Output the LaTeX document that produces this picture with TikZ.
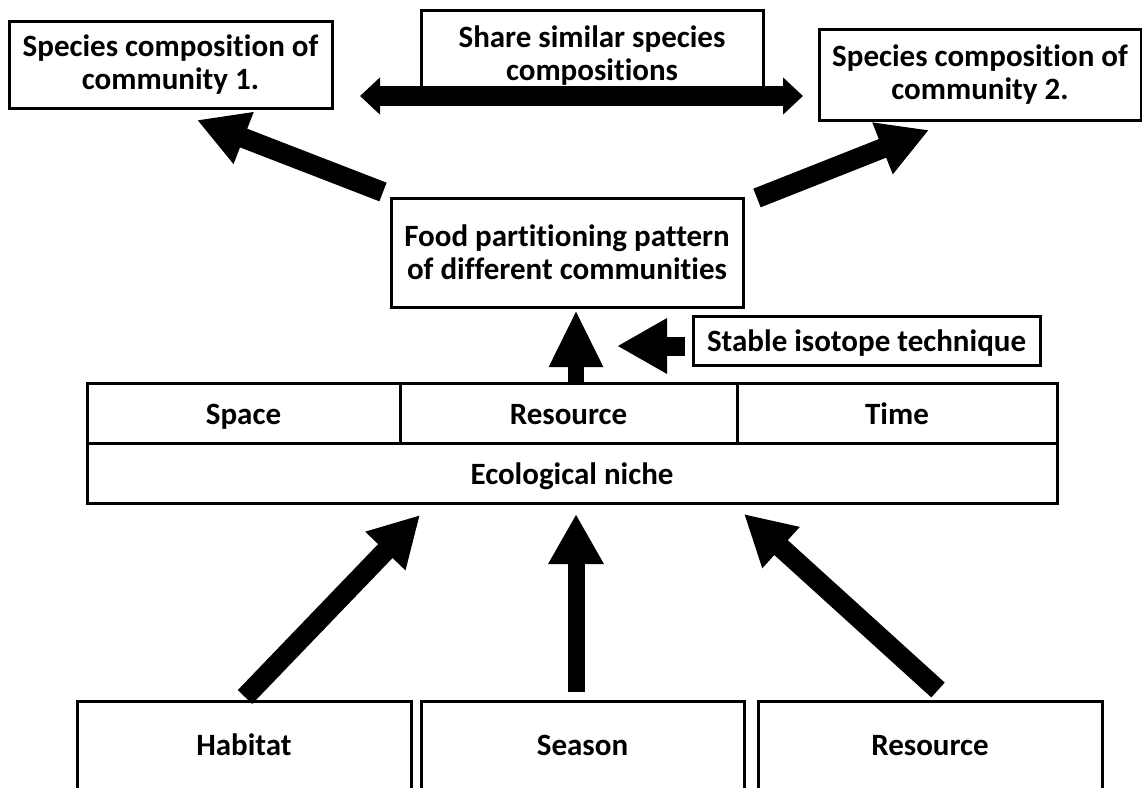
\documentclass[tikz,border=0pt]{standalone}
\usepackage{fontspec}
\setmainfont{Carlito}[RawFeature={-liga;-clig;-dlig;-calt}]
\usetikzlibrary{arrows.meta}
\begin{document}
\begin{tikzpicture}[x=1pt,y=-1pt,
  box/.style={draw, line width=3pt, inner sep=0pt, align=center,
    font=\bfseries\fontsize{31}{33}\selectfont},
  one/.style={text height=24pt, text depth=2pt},
  low/.style={text height=24pt, text depth=7pt},
  fat/.style={line width=19pt, -{Triangle[length=50pt,width=52pt]}},
  dbl/.style={line width=20pt, {Triangle[length=20pt,width=36pt]}-{Triangle[length=20pt,width=36pt]}}
]
\clip (0,0) rectangle (1142,787);
\fill[white] (0,0) rectangle (1142,787);

% top row
\node[box, minimum width=323pt, minimum height=87pt] (c1) at (170.5,65) {Species composition of\\community 1.};
\node[box, minimum width=342pt, minimum height=92pt] (share) at (592,56) {Share similar species\\compositions};
\node[box, minimum width=322pt, minimum height=91pt] (c2) at (980,74.5) {Species composition of\\community 2.};

% food partitioning
\node[box, minimum width=352pt, minimum height=109pt] (food) at (567,252.5) {Food partitioning pattern\\of different communities};
\node[box, one, minimum width=347pt, minimum height=49pt] (stable) at (866.5,340.5) {Stable isotope technique};

% ecological niche grid
\node[box, one, minimum width=313pt, minimum height=60pt] (space) at (243.5,413) {Space};
\node[box, one, minimum width=337pt, minimum height=60pt] (res) at (568.5,413) {Resource};
\node[box, one, minimum width=320pt, minimum height=60pt] (time) at (897,413) {Time};
\node[box, one, minimum width=970pt, minimum height=60pt] (niche) at (572,473) {Ecological niche};

% bottom boxes (bottom edge runs off the picture)
\node[box, low, minimum width=334pt, minimum height=92pt] (hab) at (244,747) {Habitat};
\node[box, low, minimum width=323pt, minimum height=92pt] (sea) at (582.5,747) {Season};
\node[box, low, minimum width=344pt, minimum height=92pt] (resb) at (930,747) {Resource};

% arrow end points
\coordinate (dl) at (360,96);
\coordinate (dr) at (803,96);
\coordinate (ftl) at (383,192);
\coordinate (c1t) at (197,120);
\coordinate (ftr) at (757,198);
\coordinate (c2t) at (929,130);
\coordinate (rt) at (576,385);
\coordinate (fb) at (576,310);
\coordinate (st) at (685,346);
\coordinate (sh) at (617,346);
\coordinate (habt) at (245,697);
\coordinate (habh) at (420,515);
\coordinate (seat) at (576,692);
\coordinate (seah) at (576,514);
\coordinate (rest) at (938,690);
\coordinate (resh) at (744,514);

% connectors
\draw[dbl] (dl) -- (dr);
\draw[fat, line width=20pt] (ftl) -- (c1t);
\draw[fat, line width=20pt] (ftr) -- (c2t);
\draw[line width=16pt, -{Triangle[length=57pt,width=50pt]}] (rt) -- (fb);
\draw[fat] (st) -- (sh);
\draw[fat, line width=20pt] (habt) -- (habh);
\draw[fat, line width=17pt] (seat) -- (seah);
\draw[fat, line width=20pt] (rest) -- (resh);
\end{tikzpicture}
\end{document}
